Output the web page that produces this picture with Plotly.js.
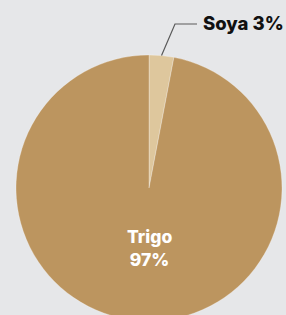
<!DOCTYPE html>
<html>
<head>
<meta charset="utf-8">
<script src="https://cdn.plot.ly/plotly-3.0.1.min.js"></script>
<style>
html,body{margin:0;padding:0;background:#e6e7e9;overflow:hidden;width:286px;height:315px;}
#chart{width:286px;height:330px;}
</style>
</head>
<body>
<div id="chart"></div>
<script>
var categories = ["Soya", "Trigo"];
var values = [3, 97];
var sliceColors = ["#dec79d", "#bc955f"];

var W = 286, H = 330;
var M = {l: 16, r: 4, t: 55, b: 9};
var R = (W - M.l - M.r) / 2;
var cx = M.l + R, cy = M.t + R;
function px2x(px){ return (px - M.l) / (W - M.l - M.r); }
function px2y(py){ return (H - M.b - py) / (H - M.t - M.b); }

var total = values.reduce(function(a,b){return a+b;}, 0);
var midA = (values[0] / total / 2) * 2 * Math.PI;
var ex = cx + R * Math.sin(midA), ey = cy - R * Math.cos(midA);
var kx = 175, ky = 24, hx = 197;

var fontFam = "Inter, 'Open Sans', sans-serif";

var data = [{
  type: "pie",
  labels: categories,
  values: values,
  sort: false,
  direction: "clockwise",
  rotation: 0,
  textinfo: "none",
  hoverinfo: "none",
  marker: {colors: sliceColors, line: {color: "rgba(255,255,255,0.35)", width: 0.8}},
  showlegend: false
}];

var layout = {
  width: W, height: H,
  margin: M,
  paper_bgcolor: "#e6e7e9",
  plot_bgcolor: "#e6e7e9",
  shapes: [{
    type: "path", xref: "paper", yref: "paper",
    path: "M " + px2x(ex) + " " + px2y(ey) + " L " + px2x(kx) + " " + px2y(ky) + " L " + px2x(hx) + " " + px2y(ky),
    line: {color: "#5a5a5a", width: 1.2}
  }],
  annotations: [
    {
      xref: "paper", yref: "paper",
      x: px2x(201), y: px2y(23),
      xanchor: "left", yanchor: "middle",
      showarrow: false,
      text: categories[0] + " " + values[0] + "%",
      font: {family: fontFam, size: 18.5, color: "#111111", weight: 800}
    },
    {
      xref: "paper", yref: "paper",
      x: px2x(149), y: px2y(248),
      xanchor: "center", yanchor: "middle",
      showarrow: false,
      text: categories[1] + "<br>" + values[1] + "%",
      font: {family: fontFam, size: 17.5, color: "#ffffff", weight: 800}
    }
  ]
};

Plotly.newPlot("chart", data, layout, {displayModeBar: false, staticPlot: true});
</script>
</body>
</html>
